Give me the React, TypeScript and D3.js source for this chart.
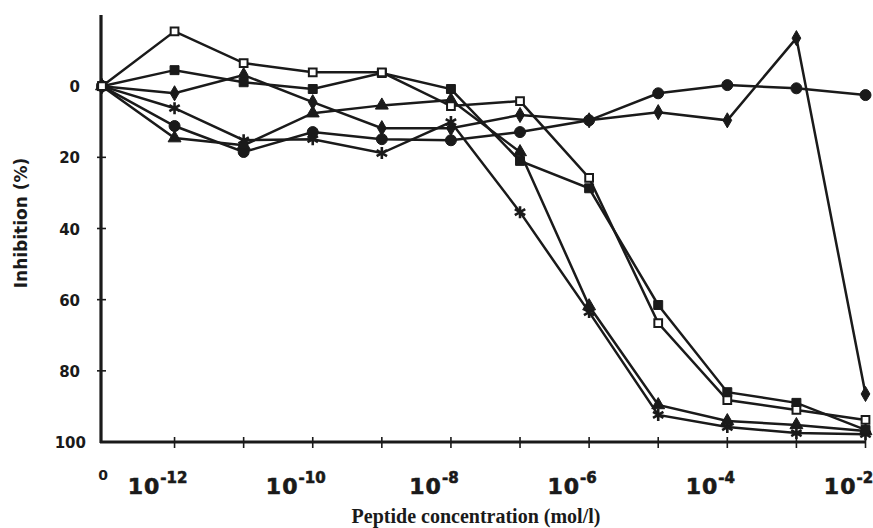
import React from 'react';
import * as d3 from 'd3';

// Peptide concentrations (mol/l); 0 is the control placed at the axis
const concentrations = [0, 1e-12, 1e-11, 1e-10, 1e-9, 1e-8, 1e-7, 1e-6, 1e-5, 1e-4, 1e-3, 1e-2];
const labelExponents = [-12, -10, -8, -6, -4, -2];
const tickExponents = [-12, -11, -10, -9, -8, -7, -6, -5, -4, -3, -2];
const yTickValues = [0, 20, 40, 60, 80, 100];

// Inhibition (%) per series
const openSquare = [0, -15.4, -6.5, -3.9, -3.9, 5.6, 4.2, 25.8, 66.6, 88.2, 91, 93.8];
const filledSquare = [0, -4.5, -1.1, 0.8, -3.7, 0.8, 21, 28.7, 61.5, 86, 89, 96.6];
const filledTriangle = [0, 14.6, 16.6, 7.6, 5.4, 3.9, 18.5, 61.8, 89.6, 94.1, 95.2, 96.9];
const asterisk = [0, 6.2, 15.2, 14.9, 18.8, 10.1, 35.4, 63.5, 92.4, 95.8, 97.5, 97.8];
const filledCircle = [0, 11.2, 18.5, 12.9, 14.9, 15.2, 12.9, 9.6, 2, -0.3, 0.6, 2.5];
const filledDiamond = [0, 2, -3.1, 4.5, 11.8, 11.8, 8.1, 9.6, 7.3, 9.6, -13.5, 86.5];

const ZERO_POS = -13.05;
const INK = '#1a1a1a';

const xScale = d3.scaleLinear().domain([ZERO_POS, -2]).range([102, 865.5]);
const yScale = d3.scaleLinear().domain([-20, 100]).range([15, 442]);
const xOf = (c: number) => xScale(c === 0 ? ZERO_POS : Math.round(Math.log10(c)));

type Kind = 'openSquare' | 'square' | 'triangle' | 'asterisk' | 'circle' | 'diamond';
const series: { kind: Kind; values: number[] }[] = [
  { kind: 'diamond', values: filledDiamond },
  { kind: 'circle', values: filledCircle },
  { kind: 'asterisk', values: asterisk },
  { kind: 'triangle', values: filledTriangle },
  { kind: 'square', values: filledSquare },
  { kind: 'openSquare', values: openSquare },
];

const line = d3
  .line<number>()
  .x((_, i) => xOf(concentrations[i]))
  .y((v) => yScale(v));

function Marker({ kind, x, y }: { kind: Kind; x: number; y: number }) {
  if (kind === 'asterisk') {
    const r = 6;
    const segs = [0, 60, 120].map((a) => {
      const t = (a * Math.PI) / 180;
      return `M${x - r * Math.sin(t)},${y - r * Math.cos(t)}L${x + r * Math.sin(t)},${y + r * Math.cos(t)}`;
    });
    return <path d={segs.join('')} stroke={INK} strokeWidth={2.6} fill="none" />;
  }
  const typeMap: Record<string, d3.SymbolType> = {
    openSquare: d3.symbolSquare,
    square: d3.symbolSquare,
    triangle: d3.symbolTriangle,
    circle: d3.symbolCircle,
    diamond: d3.symbolDiamond,
  };
  const sizeMap: Record<string, number> = {
    openSquare: 60,
    square: 80,
    triangle: 72,
    circle: 95,
    diamond: 66,
  };
  const d = d3.symbol().type(typeMap[kind]).size(sizeMap[kind])() as string;
  const open = kind === 'openSquare';
  return (
    <path
      d={d}
      transform={`translate(${x},${y})`}
      fill={open ? '#ffffff' : INK}
      stroke={INK}
      strokeWidth={open ? 2 : 1}
    />
  );
}

export default function App() {
  return (
    <svg
      width={873}
      height={528}
      style={{ position: 'absolute', left: 0, top: 0, background: '#ffffff' }}
      fontFamily="'DejaVu Sans', sans-serif"
    >
      <rect width={873} height={528} fill="#ffffff" />
      {/* axes */}
      <line x1={101} y1={15} x2={101} y2={443} stroke={INK} strokeWidth={3.2} />
      <line x1={100} y1={442} x2={866} y2={442} stroke={INK} strokeWidth={3.2} />
      {yTickValues
        .filter((v) => v > 0 && v < 100)
        .map((v) => (
          <line key={'yt' + v} x1={97} x2={106} y1={yScale(v)} y2={yScale(v)} stroke={INK} strokeWidth={1.6} />
        ))}
      {tickExponents.map((e) => (
        <line key={'xt' + e} x1={xScale(e)} x2={xScale(e)} y1={437} y2={448} stroke={INK} strokeWidth={1.6} />
      ))}
      {/* y tick labels */}
      {yTickValues.map((v) => (
        <text
          key={'yl' + v}
          x={v === 100 ? 86 : 80}
          y={yScale(v) + 6}
          textAnchor="end"
          fontWeight="bold"
          fontSize={15}
          fill={INK}
        >
          {v}
        </text>
      ))}
      {/* x tick labels */}
      <text x={103} y={480} textAnchor="middle" fontWeight="bold" fontSize={14} fill={INK}>
        0
      </text>
      {labelExponents.map((e) => (
        <text
          key={'xl' + e}
          x={xScale(e) - 17}
          y={494}
          textAnchor="middle"
          fontWeight="bold"
          fontSize={22}
          fill={INK}
          stroke={INK}
          strokeWidth={0.6}
        >
          <tspan letterSpacing={1}>10</tspan>
          <tspan fontSize={15} dy={-11}>
            {String(e)}
          </tspan>
        </text>
      ))}
      {/* axis titles */}
      <text
        transform="translate(27,223) rotate(-90)"
        textAnchor="middle"
        fontWeight="bold"
        fontSize={17}
        fill={INK}
      >
        Inhibition (%)
      </text>
      <text
        x={476}
        y={523}
        textAnchor="middle"
        fontWeight="bold"
        fontSize={20}
        fontFamily="'Liberation Serif', 'Times New Roman', serif"
        fill={INK}
      >
        Peptide concentration (mol/l)
      </text>
      {/* series lines */}
      {series.map((s) => (
        <path key={'l' + s.kind} d={line(s.values) as string} fill="none" stroke={INK} strokeWidth={2.5} />
      ))}
      {/* markers */}
      {series.map((s) =>
        s.values.map((v, i) => (
          <Marker key={s.kind + i} kind={s.kind} x={xOf(concentrations[i])} y={yScale(v)} />
        ))
      )}
    </svg>
  );
}
